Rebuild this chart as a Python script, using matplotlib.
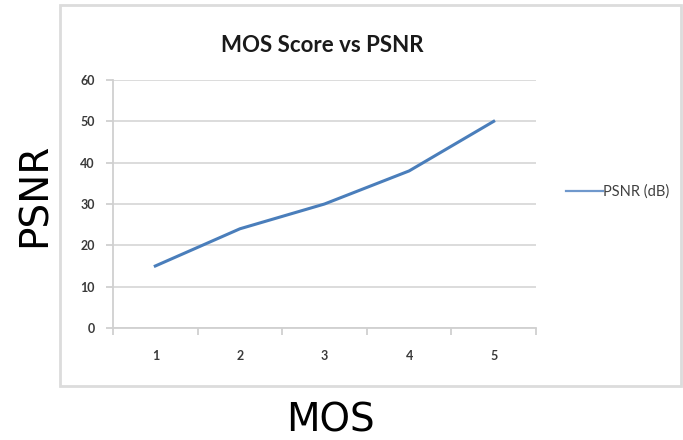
import matplotlib.pyplot as plt
from matplotlib.patches import Rectangle

mos = [1, 2, 3, 4, 5]
psnr = [15, 24, 30, 38, 50]
yticks = [0, 10, 20, 30, 40, 50, 60]

plt.rcParams['font.family'] = ['Lato', 'DejaVu Sans']

fig = plt.figure(figsize=(6.83, 4.4), dpi=100)
fig.patch.set_facecolor('white')

# frame of the embedded excel chart
fig.patches.append(Rectangle((60 / 683, 1 - 386 / 440), 621 / 683, 381 / 440,
                             transform=fig.transFigure, fill=False,
                             edgecolor='#dcdcdc', linewidth=2))

ax = fig.add_axes([113 / 683, 112 / 440, 423 / 683, 248 / 440])
ax.plot(mos, psnr, color='#4a7ebb', linewidth=2.2, label='PSNR (dB)')

ax.set_xlim(0.5, 5.5)
ax.set_ylim(0, 60)
ax.set_yticks(yticks)
ax.set_xticks(mos)
ax.set_xticks([0.5, 1.5, 2.5, 3.5, 4.5, 5.5], minor=True)
ax.tick_params(axis='x', which='major', length=0, pad=16, labelsize=9, labelcolor='#3a3a3a')
ax.tick_params(axis='x', which='minor', length=5, width=1.3, color='#d0d0d0')
ax.tick_params(axis='y', length=5, width=1.3, color='#d0d0d0', pad=8, labelsize=9, labelcolor='#3a3a3a')
ax.grid(axis='y', color='#d9d9d9', linewidth=1.3)
ax.set_axisbelow(True)
for s in ['top', 'right']:
    ax.spines[s].set_visible(False)
for s in ['left', 'bottom']:
    ax.spines[s].set_color('#d0d0d0')
    ax.spines[s].set_linewidth(1.3)

fig.text(322 / 683, 1 - 45 / 440, 'MOS Score vs PSNR', ha='center', va='center',
         fontsize=16, fontweight='bold', color='#1a1a1a')

leg = ax.legend(loc='center left', bbox_to_anchor=(1.04, 0.55), frameon=False,
                fontsize=10.5, handlelength=2.5, handletextpad=0.05, labelcolor='#404040')
leg.get_lines()[0].set_linewidth(1.6)
leg.get_lines()[0].set_color('#6f98cc')

fig.text(330 / 683, 1 - 420 / 440, 'MOS', ha='center', va='center',
         fontsize=28, family='DejaVu Sans')
fig.text(35 / 683, 1 - 195 / 440, 'PSNR', ha='center', va='center',
         fontsize=28, rotation=90, family='DejaVu Sans')

fig.canvas.draw()
for lab in ax.get_xticklabels() + ax.get_yticklabels():
    lab.set_fontweight('bold')

fig.savefig('out.png', dpi=100)
